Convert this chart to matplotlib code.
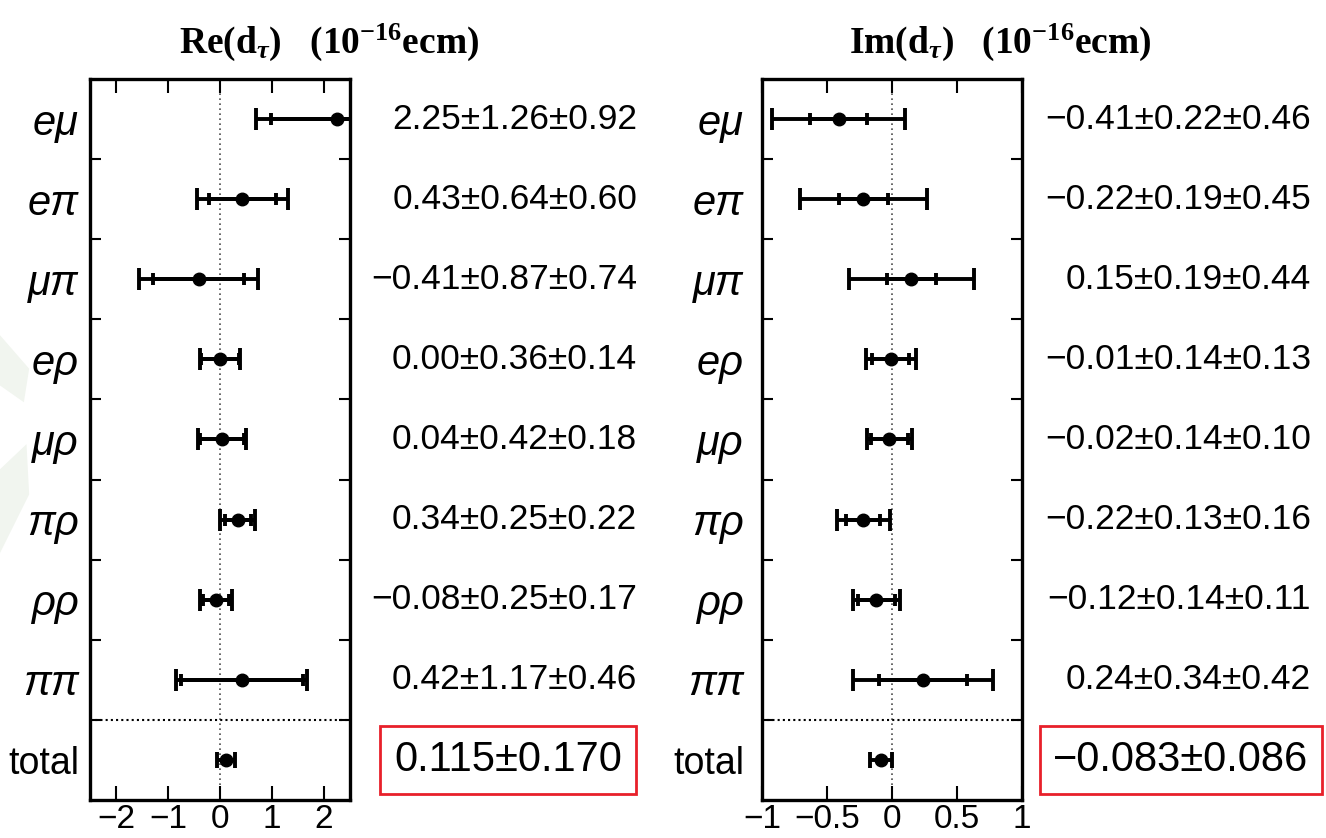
import numpy as np
import matplotlib
matplotlib.use('Agg')
import matplotlib.pyplot as plt
from matplotlib import transforms
from matplotlib.patches import Polygon

plt.rcParams['mathtext.fontset'] = 'custom'
plt.rcParams['mathtext.rm'] = 'Liberation Serif:bold'
plt.rcParams['mathtext.it'] = 'Liberation Serif:italic:bold'
plt.rcParams['mathtext.bf'] = 'Liberation Serif:bold'

# decay channels (tau pair final states)
channels = ['eμ', 'eπ', 'μπ', 'eρ', 'μρ', 'πρ', 'ρρ', 'ππ']

# Re(d_tau): central value, stat, syst  (1e-16 e cm)
re_val = [2.25, 0.43, -0.41, 0.00, 0.04, 0.34, -0.08, 0.42]
re_stat = [1.26, 0.64, 0.87, 0.36, 0.42, 0.25, 0.25, 1.17]
re_sys = [0.92, 0.60, 0.74, 0.14, 0.18, 0.22, 0.17, 0.46]
re_total = 0.115
re_total_err = 0.170

# Im(d_tau)
im_val = [-0.41, -0.22, 0.15, -0.01, -0.02, -0.22, -0.12, 0.24]
im_stat = [0.22, 0.19, 0.19, 0.14, 0.14, 0.13, 0.14, 0.34]
im_sys = [0.46, 0.45, 0.44, 0.13, 0.10, 0.16, 0.11, 0.42]
im_total = -0.083
im_total_err = 0.086

re_ticks = [-2, -1, 0, 1, 2]
im_ticks = [-1, -0.5, 0, 0.5, 1]


def fmt(v, nd):
    return f'{v:.{nd}f}'.replace('-', '\u2212')


fig = plt.figure(figsize=(13.26, 8.38), dpi=100)
W, H = 1326.0, 838.0

# faint leaf shapes of the slide background on the left edge
for pts in ([(0, 0.60), (0.022, 0.56), (0.018, 0.52), (0, 0.54)],
            [(0, 0.44), (0.02, 0.47), (0.022, 0.41), (0, 0.34)]):
    fig.patches.append(Polygon(pts, closed=True, transform=fig.transFigure,
                               fc='#f1f5ef', ec='none', zorder=-5))

panels = [
    dict(left=90, val=re_val, stat=re_stat, sys=re_sys, tot=re_total, toterr=re_total_err,
         xlim=(-2.5, 2.5), ticks=re_ticks, name='Re', txt_x=637, box_x=508, title_x=329, pad=8),
    dict(left=762, val=im_val, stat=im_stat, sys=im_sys, tot=im_total, toterr=im_total_err,
         xlim=(-1, 1), ticks=im_ticks, name='Im', txt_x=1311, box_x=1181, title_x=1000, pad=13),
]

for p in panels:
    ax = fig.add_axes([p['left'] / W, 38 / H, 260 / W, 721 / H])
    ax.patch.set_alpha(0)
    n = len(channels)
    y = np.arange(n)
    val = np.array(p['val'])
    stat = np.array(p['stat'])
    tot = np.sqrt(stat ** 2 + np.array(p['sys']) ** 2)

    ax.axvline(0, color='0.3', ls=(0, (1, 2)), lw=1.2, zorder=1)
    ax.axhline(n - 0.5, color='k', ls=(0, (1, 1.5)), lw=1.5, zorder=1)

    # total error (outer caps), then statistical only (inner ticks)
    ax.errorbar(val, y, xerr=tot, fmt='o', color='k', ms=9, elinewidth=2.8,
                capsize=8, capthick=2.8, zorder=3)
    ax.errorbar(val, y, xerr=stat, fmt='none', ecolor='k', elinewidth=2.8,
                capsize=4.5, capthick=2.8, zorder=3)
    ax.errorbar([p['tot']], [n], xerr=[p['toterr']], fmt='o', color='k', ms=9,
                elinewidth=2.8, capsize=5.5, capthick=2.8, zorder=3)

    ax.set_xlim(*p['xlim'])
    ax.set_ylim(n + 0.5, -0.5)
    ax.set_xticks(p['ticks'])
    ax.set_xticklabels([fmt(t, 0) if float(t).is_integer() else fmt(t, 1) for t in p['ticks']],
                       family='Liberation Sans', fontsize=24)
    ax.tick_params(axis='x', which='major', direction='in', top=True, length=10, width=1.5, pad=3)

    ax.set_yticks(np.arange(0.5, n, 1.0))
    ax.set_yticklabels([])
    ax.tick_params(axis='y', which='major', direction='in', right=True, length=8, width=1.5)
    ax.set_yticks(np.arange(n + 1), minor=True)
    ax.set_yticklabels(channels + ['total'], minor=True)
    ax.tick_params(axis='y', which='minor', length=0, pad=p['pad'])
    for lab in ax.get_yticklabels(minor=True):
        lab.set_family('Liberation Sans')
        if lab.get_text() == 'total':
            lab.set_fontsize(27)
        else:
            lab.set_style('italic')
            lab.set_fontsize(30)

    for s in ax.spines.values():
        s.set_linewidth(2.4)

    tr = transforms.blended_transform_factory(fig.transFigure, ax.transData)
    for i in range(n):
        s = fmt(val[i], 2) + '±' + fmt(stat[i], 2) + '±' + fmt(p['sys'][i], 2)
        ax.text(p['txt_x'] / W, i, s, transform=tr, ha='right', va='center',
                family='Liberation Sans', fontsize=25.5)
    ax.text(p['box_x'] / W, n, fmt(p['tot'], 3) + '±' + fmt(p['toterr'], 3), transform=tr,
            ha='center', va='center', family='Liberation Sans', fontsize=30,
            bbox=dict(boxstyle='square,pad=0.33', fc='none', ec='#e8202a', lw=2))

    fig.text(p['title_x'] / W, 1 - 42 / H, p['name'] + r'(d$_\tau$)   (10$^{-16}$ecm)',
             ha='center', va='center', family='Liberation Serif', weight='bold', fontsize=27)

fig.savefig('out.png', dpi=100)
